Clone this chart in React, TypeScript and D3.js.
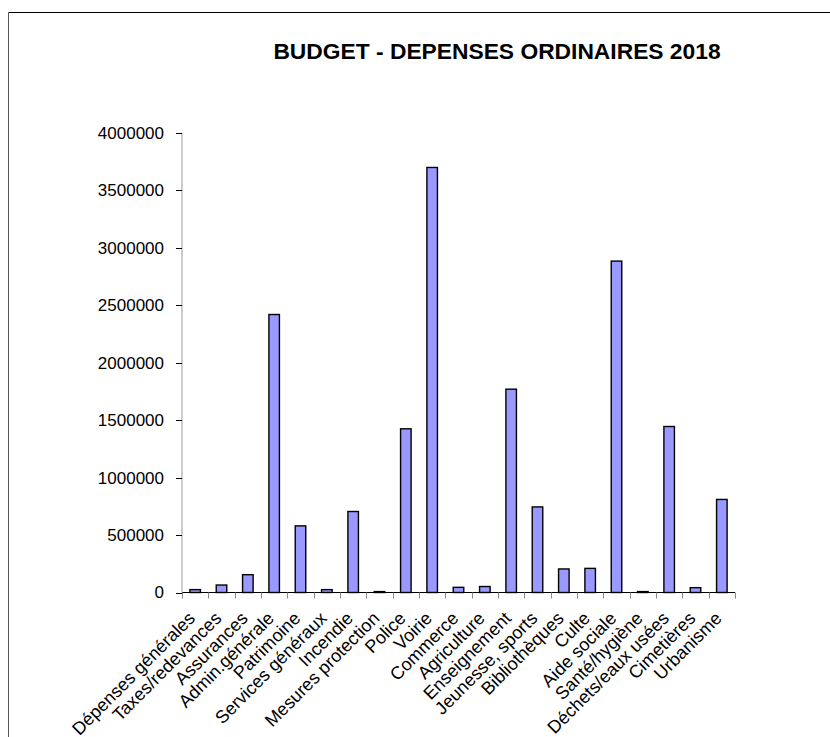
import React, { useEffect, useRef } from 'react';
import * as d3 from 'd3';

const categories = [
	'Dépenses générales',
	'Taxes/redevances',
	'Assurances',
	'Admin.générale',
	'Patrimoine',
	'Services généraux',
	'Incendie',
	'Mesures protection',
	'Police',
	'Voirie',
	'Commerce',
	'Agriculture',
	'Enseignement',
	'Jeunesse, sports',
	'Bibliothèques',
	'Culte',
	'Aide sociale',
	'Santé/hygiène',
	'Déchets/eaux usées',
	'Cimetières',
	'Urbanisme',
];

const values = [
	25000, 65000, 155000, 2420000, 580000, 25000, 705000, 8000, 1425000, 3700000, 45000, 52000,
	1770000, 745000, 205000, 210000, 2885000, 8000, 1445000, 42000, 810000,
];

const yTicks = [0, 500000, 1000000, 1500000, 2000000, 2500000, 3000000, 3500000, 4000000];

const title = 'BUDGET - DEPENSES ORDINAIRES 2018';

const App: React.FC = () => {
	const svgRef = useRef<SVGSVGElement | null>(null);

	useEffect(() => {
		document.body.style.margin = '0';
		if (!svgRef.current) return;

		const width = 830;
		const height = 737;
		const left = 182;
		const right = 735;
		const top = 133;
		const bottom = 592.5;

		const x = d3.scaleBand<string>().domain(categories).range([left, right]).paddingInner(0.6).paddingOuter(0.3);
		const y = d3.scaleLinear().domain([0, 4000000]).range([bottom, top]);

		d3.select(svgRef.current).selectAll('*').remove();

		const svg = d3
			.select(svgRef.current)
			.attr('width', width)
			.attr('height', height)
			.style('display', 'block')
			.style('background', '#fff')
			.style('font-family', 'Arial, "Liberation Sans", sans-serif');

		// cadre
		svg.append('line').attr('x1', 8.5).attr('x2', width).attr('y1', 12.5).attr('y2', 12.5).attr('stroke', '#000');
		svg.append('line').attr('x1', 8.5).attr('x2', 8.5).attr('y1', 12.5).attr('y2', height).attr('stroke', '#555');

		svg
			.append('text')
			.attr('x', 497)
			.attr('y', 59)
			.attr('text-anchor', 'middle')
			.attr('font-weight', 'bold')
			.attr('font-size', 22.8)
			.text(title);

		// axe Y
		svg.append('line').attr('x1', left).attr('x2', left).attr('y1', top).attr('y2', bottom).attr('stroke', '#999');
		const yg = svg.append('g');
		yg.selectAll('line')
			.data(yTicks)
			.join('line')
			.attr('x1', left - 6)
			.attr('x2', left)
			.attr('y1', (d) => Math.round(y(d)) + 0.5)
			.attr('y2', (d) => Math.round(y(d)) + 0.5)
			.attr('stroke', '#000');
		yg.selectAll('text')
			.data(yTicks)
			.join('text')
			.attr('x', 164)
			.attr('y', (d) => y(d))
			.attr('dy', '0.35em')
			.attr('text-anchor', 'end')
			.attr('font-size', 17)
			.text((d) => String(d));

		// barres
		svg
			.append('g')
			.selectAll('rect')
			.data(values)
			.join('rect')
			.attr('x', (_, i) => x(categories[i])!)
			.attr('y', (d) => y(d))
			.attr('width', x.bandwidth())
			.attr('height', (d) => bottom - y(d))
			.attr('fill', '#9999ff')
			.attr('stroke', '#000')
			.attr('stroke-width', 1.4);

		// axe X
		svg.append('line').attr('x1', left).attr('x2', right).attr('y1', bottom).attr('y2', bottom).attr('stroke', '#000');
		const step = x.step();
		svg
			.append('g')
			.selectAll('line')
			.data(d3.range(categories.length + 1))
			.join('line')
			.attr('x1', (i) => Math.round(left + i * step) + 0.5)
			.attr('x2', (i) => Math.round(left + i * step) + 0.5)
			.attr('y1', bottom)
			.attr('y2', bottom + 6)
			.attr('stroke', '#888');

		svg
			.append('g')
			.selectAll('text')
			.data(categories)
			.join('text')
			.attr('transform', (d) => `translate(${x(d)! + x.bandwidth() / 2 + 1},${bottom + 27}) rotate(-45)`)
			.attr('text-anchor', 'end')
			.attr('font-size', 18)
			.text((d) => d);
	}, []);

	return <svg ref={svgRef}></svg>;
};

export default App;
